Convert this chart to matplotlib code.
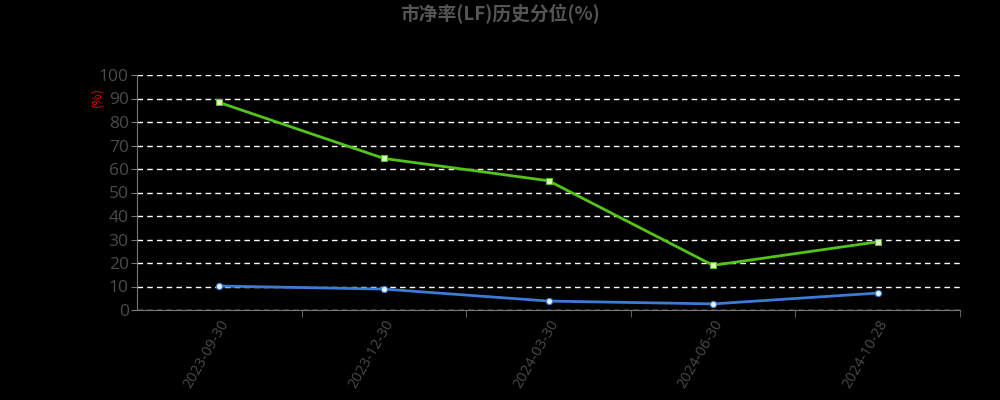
import matplotlib
matplotlib.use("Agg")
import matplotlib.pyplot as plt
import numpy as np

plt.rcParams['font.family'] = ['Noto Sans CJK SC', 'DejaVu Sans']

dates = ["2023-09-30", "2023-12-30", "2024-03-30", "2024-06-30", "2024-10-28"]
green_vals = [88.3, 64.5, 55.0, 19.0, 29.0]
blue_vals = [10.2, 8.9, 3.8, 2.6, 7.2]
yticks = [0, 10, 20, 30, 40, 50, 60, 70, 80, 90, 100]
title = "市净率(LF)历史分位(%)"

fig = plt.figure(figsize=(10, 4), dpi=100, facecolor='black')
ax = fig.add_axes([0.137, 0.225, 0.823, 0.5875], facecolor='black')

x = np.arange(len(dates))
ax.plot(x, green_vals, color='#52c41a', lw=2, marker='s', ms=4,
        markerfacecolor='#d9f7be', markeredgecolor='#52c41a', markeredgewidth=0.8, zorder=3)
ax.plot(x, blue_vals, color='#3a7bd5', lw=2, marker='o', ms=4.5,
        markerfacecolor='#e6f0ff', markeredgecolor='#3a7bd5', markeredgewidth=0.8, zorder=3)

ax.set_xlim(-0.5, len(dates) - 0.5)
ax.set_ylim(0, 100)
ax.set_yticks(yticks)
ax.set_yticklabels([str(v) for v in yticks], color='#4a4a4a', fontsize=12.5,
                   family=['Open Sans', 'DejaVu Sans'])
ax.yaxis.grid(True, color='white', linestyle=(0, (4, 3)), lw=1)
ax.set_axisbelow(True)

ax.set_xticks(x)
ax.set_xticklabels(dates, rotation=60, ha='right', va='top', rotation_mode='anchor',
                   color='#4a4a4a', fontsize=10.5, family=['Open Sans', 'DejaVu Sans'])
ax.tick_params(axis='x', length=0, pad=5)
ax.set_xticks(np.arange(0.5, len(dates), 1), minor=True)
ax.tick_params(axis='x', which='minor', length=5, color='#777777')
ax.tick_params(axis='y', length=4, color='#777777', pad=2)

for s in ['top', 'right']:
    ax.spines[s].set_visible(False)
ax.spines['left'].set_color('#777777')
ax.spines['bottom'].set_color('#777777')

ax.text(-0.049, 0.905, "(%)", transform=ax.transAxes, color='#dd0000', fontsize=9,
        rotation=90, ha='center', va='center')

fig.text(0.5, 0.965, title, color='#555555', fontsize=13.5, fontweight='bold',
         ha='center', va='center')

fig.savefig('out.png', dpi=100, facecolor='black')
